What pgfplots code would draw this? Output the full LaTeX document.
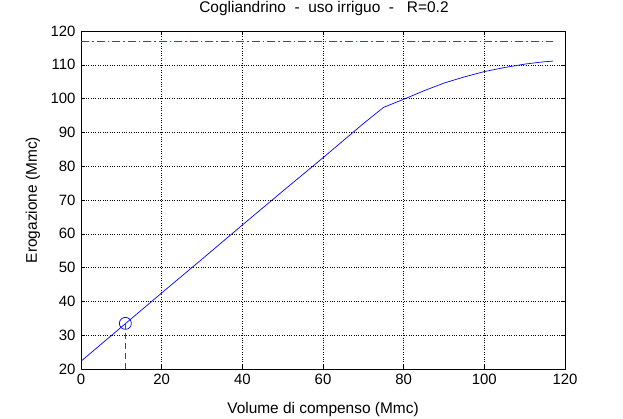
\documentclass[border=0pt]{standalone}
\usepackage{pgfplots}
\pgfplotsset{compat=1.18}
\usepackage{fontspec}
\setmainfont{Liberation Sans}
\definecolor{mblue}{rgb}{0,0,1}
\definecolor{mgreen}{rgb}{0,0.5,0}
\begin{document}
\begin{tikzpicture}
\path[use as bounding box] (0,0) rectangle (623bp,419bp);
\begin{axis}[
  at={(81bp,50bp)}, anchor=south west,
  scale only axis, width=484bp, height=338bp,
  xmin=0, xmax=120, ymin=20, ymax=120,
  xtick={0,20,...,120}, ytick={20,30,...,120},
  grid=major, grid style={black, dotted, line width=0.5pt},
  axis line style={black, line width=0.5pt},
  tick align=inside, major tick length=4bp,
  tick style={black, line width=0.5pt},
  xtick pos=both, ytick pos=both,
  /pgf/number format/assume math mode=true,
  font=\fontsize{15.5}{18}\selectfont,
  ticklabel style={font=\fontsize{15}{18}\selectfont},
  title={Cogliandrino\ \ -\ \ uso irriguo\ \ -\ \ \ R=0.2},
  title style={at={(0.5,1)}, anchor=center, yshift=17bp, xshift=1bp, font=\fontsize{15.5}{18}\selectfont},
  xlabel={Volume di compenso (Mmc)},
  xlabel style={at={(0.5,0)}, anchor=center, yshift=-41bp},
  ylabel={Erogazione (Mmc)},
  ylabel style={at={(0,0.5)}, anchor=center, yshift=48bp},
  xticklabel style={yshift=-2bp},
  yticklabel style={xshift=-2bp},
]
\addplot[draw=mblue, line width=0.7pt, mark=none] coordinates {
 (0,22.3) (10,32.4) (20,42.5) (30,52.5) (40,62.6) (50,72.6) (60,82.5) (70,92.6) (75,97.4)
 (80,99.8) (85,102.3) (90,104.6) (95,106.4) (100,108.0) (105,109.2) (110,110.2) (114,110.8) (117,111.1)
};
\addplot[mgreen, line width=0.8pt, mark=none, dash pattern={on 8bp off 3bp on 1.5bp off 3bp}] coordinates {(0,117) (117,117)};
\addplot[mgreen, line width=0.8pt, mark=none, dash pattern={on 6bp off 4bp}] coordinates {(11,20) (11,33.5)};
\addplot[draw=mblue, only marks, mark=o, mark size=6bp, mark options={draw=mblue, line width=0.7pt}] coordinates {(11,33.5)};
\end{axis}
\end{tikzpicture}
\end{document}
